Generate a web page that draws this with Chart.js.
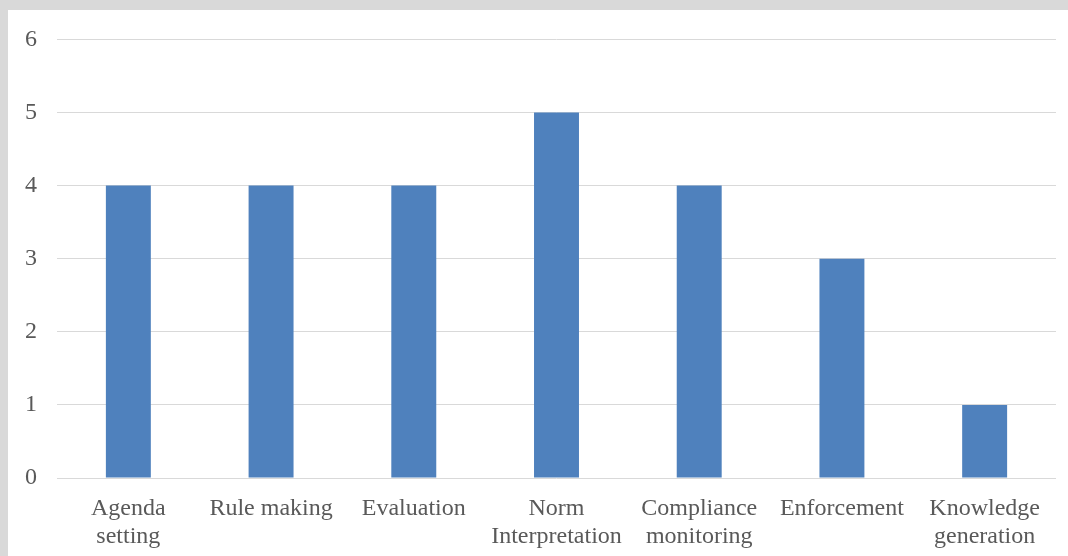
<!DOCTYPE html>
<html>
<head>
<meta charset="utf-8">
<script src="https://cdn.jsdelivr.net/npm/chart.js@4"></script>
<style>
  html, body { margin: 0; padding: 0; background: #d9d9d9; width: 1068px; height: 556px; overflow: hidden; }
  #panel { position: absolute; left: 8px; top: 10px; width: 1060px; height: 546px; background: #ffffff; }
  #c { position: absolute; left: 8px; top: 5px; display: block; }
</style>
</head>
<body>
<div id="panel"></div>
<canvas id="c" width="1060" height="551"></canvas>
<script>
const categories = [
  ["Agenda", "setting"],
  "Rule making",
  "Evaluation",
  ["Norm", "Interpretation"],
  ["Compliance", "monitoring"],
  "Enforcement",
  ["Knowledge", "generation"]
];
const counts = [4, 4, 4, 5, 4, 3, 1];
const yTicks = [0, 1, 2, 3, 4, 5, 6];

const textColor = "#595959";
const gridColor = "#d9d9d9";
const font = { family: "'Liberation Serif', 'Times New Roman', serif", size: 24 };

new Chart(document.getElementById("c"), {
  type: "bar",
  data: {
    labels: categories,
    datasets: [{
      data: counts,
      backgroundColor: "#4f81bd",
      borderWidth: 0,
      categoryPercentage: 1,
      barPercentage: 0.315
    }]
  },
  options: {
    responsive: false,
    animation: false,
    layout: { padding: { top: 24, right: 12, bottom: 0, left: 0 } },
    plugins: { legend: { display: false }, tooltip: { enabled: false } },
    scales: {
      x: {
        grid: { display: false },
        border: { display: false },
        ticks: { color: textColor, font: { ...font, lineHeight: 28 / 24 }, padding: 9, maxRotation: 0, autoSkip: false },
        afterFit(scale) { scale.height = 78; }
      },
      y: {
        min: 0,
        max: 6,
        afterBuildTicks(scale) { scale.ticks = yTicks.map(v => ({ value: v })); },
        grid: { color: gridColor, lineWidth: 1, drawTicks: false },
        border: { display: false },
        ticks: { color: textColor, font: font, padding: 20 },
        afterFit(scale) { scale.width = 49; }
      }
    }
  }
});
</script>
</body>
</html>
